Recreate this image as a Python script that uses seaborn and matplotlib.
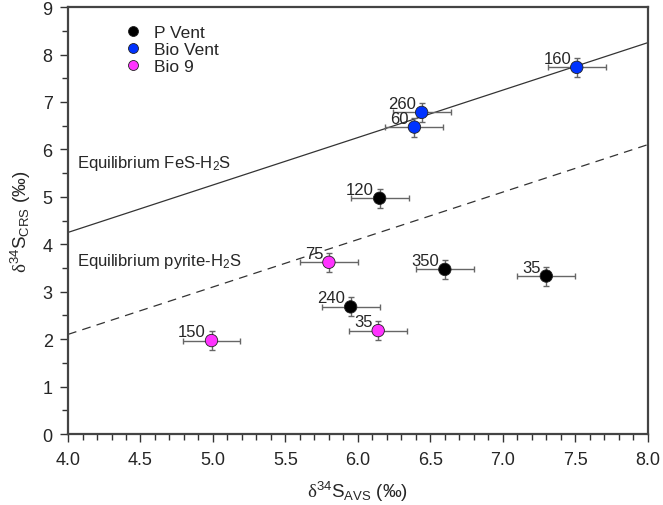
import numpy as np
import pandas as pd
import matplotlib
matplotlib.use("Agg")
import matplotlib.pyplot as plt
import seaborn as sns
from matplotlib.ticker import MultipleLocator

# data
groups = ["P Vent", "P Vent", "P Vent", "P Vent",
          "Bio Vent", "Bio Vent", "Bio Vent",
          "Bio 9", "Bio 9", "Bio 9"]
avs = [6.15, 5.95, 6.60, 7.30, 7.51, 6.44, 6.39, 5.80, 6.14, 4.99]
crs = [4.97, 2.68, 3.47, 3.33, 7.73, 6.78, 6.47, 3.62, 2.18, 1.97]
labels = ["120", "240", "350", "35", "160", "260", "60", "75", "35", "150"]
xerr = [0.2] * 10
yerr = [0.2] * 10

df = pd.DataFrame({"group": groups, "avs": avs, "crs": crs, "label": labels})
palette = {"P Vent": "#000000", "Bio Vent": "#0033ff", "Bio 9": "#ff33ff"}

sns.set_style("white")
plt.rcParams["font.family"] = ["Liberation Sans", "DejaVu Sans"]
plt.rcParams["mathtext.fontset"] = "custom"
plt.rcParams["mathtext.rm"] = "Liberation Sans"
plt.rcParams["mathtext.it"] = "Liberation Sans:italic"
plt.rcParams["mathtext.sf"] = "Liberation Serif"

fig = plt.figure(figsize=(6.63, 5.06), dpi=100)
ax = fig.add_axes([0.1026, 0.1403, 0.8744, 0.8437])

# equilibrium lines
xl = np.array([4.0, 8.0])
ax.plot(xl, xl + 0.25, color="#333333", lw=0.9)
ax.plot(xl, xl - 1.9, color="#333333", lw=0.9, ls=(0, (7, 5)))
ax.text(4.06, 5.72, "Equilibrium FeS-H$_2$S", fontsize=12, va="center")
ax.text(4.06, 3.65, "Equilibrium pyrite-H$_2$S", fontsize=12, va="center")

ax.errorbar(avs, crs, xerr=xerr, yerr=yerr, fmt="none", ecolor="#666666",
            elinewidth=1, capsize=2.5, capthick=1, zorder=2)
sns.scatterplot(data=df, x="avs", y="crs", hue="group", palette=palette,
                s=80, edgecolor="#222222", linewidth=0.6, zorder=3, ax=ax)

for x, y, t in zip(avs, crs, labels):
    ax.annotate(t, (x, y), xytext=(-4, 1), textcoords="offset points",
                ha="right", va="bottom", fontsize=12)

ax.set_xlim(4.0, 8.0)
ax.set_ylim(0, 9)
ax.xaxis.set_major_locator(MultipleLocator(0.5))
ax.xaxis.set_minor_locator(MultipleLocator(0.1))
ax.yaxis.set_major_locator(MultipleLocator(1))
ax.yaxis.set_minor_locator(MultipleLocator(0.5))
ax.xaxis.set_major_formatter(matplotlib.ticker.FormatStrFormatter("%.1f"))
ax.tick_params(which="both", direction="out", left=True, bottom=True,
               color="#333333", labelsize=13)
ax.tick_params(which="major", length=6, width=1)
ax.tick_params(which="minor", length=4, width=1)
ax.tick_params(axis="x", which="major", pad=6)
ax.tick_params(axis="y", which="major", pad=5)
for sp in ax.spines.values():
    sp.set_color("#444444")
    sp.set_linewidth(1.6)

ax.set_xlabel(r"$\mathsf{\delta}^{34}$S$_{\mathrm{AVS}}$ (‰)", fontsize=13.5, labelpad=8)
ax.set_ylabel(r"$\mathsf{\delta}^{34}$S$_{\mathrm{CRS}}$ (‰)", fontsize=13.5, labelpad=7)

leg = ax.legend(loc="upper left", bbox_to_anchor=(0.055, 0.995), frameon=False,
                fontsize=12.5, handletextpad=0.2, labelspacing=0.12,
                markerscale=0.8)

fig.savefig("out.png", dpi=100)
